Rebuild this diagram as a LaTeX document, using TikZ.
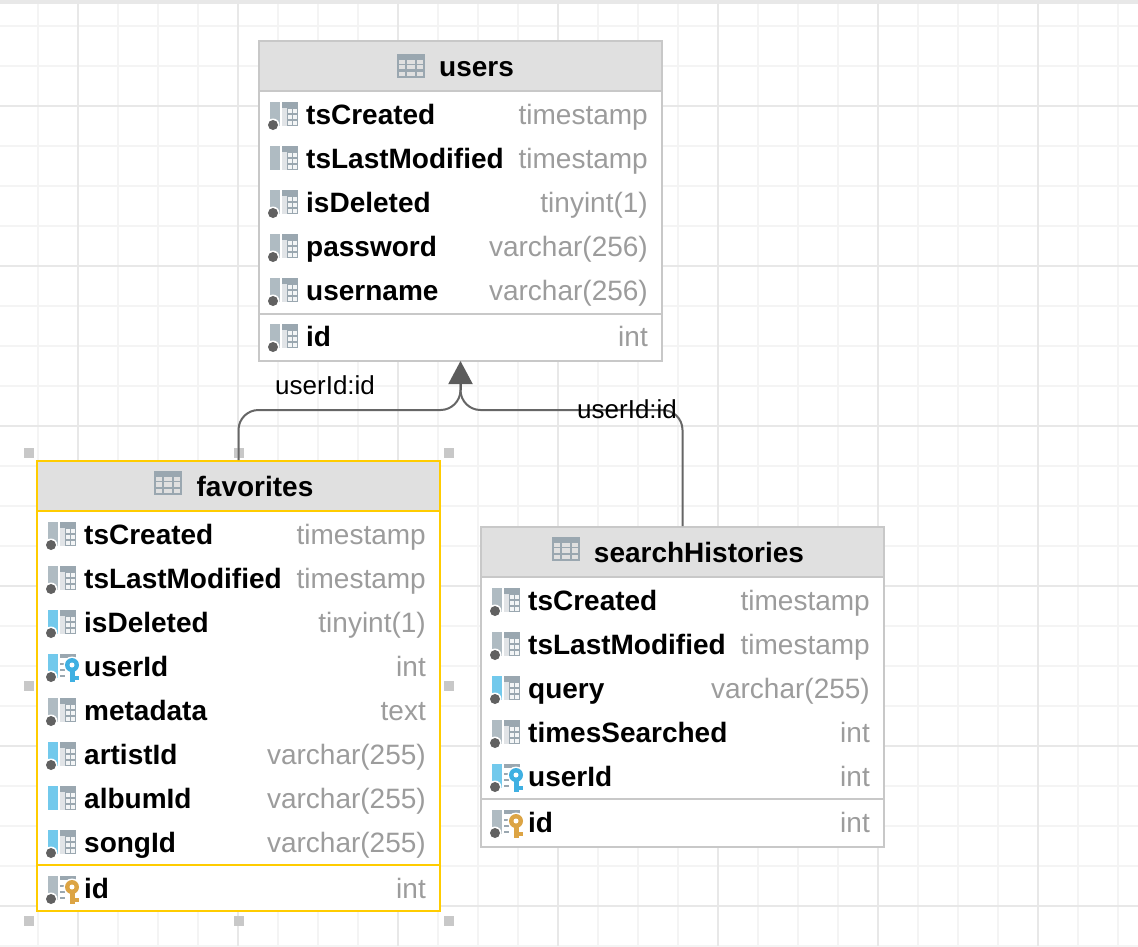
\documentclass[tikz,border=0pt]{standalone}
\usepackage{fontspec}
\setmainfont{Liberation Sans}
\usepackage{xcolor}
\usetikzlibrary{arrows.meta,calc}
\definecolor{gridminor}{HTML}{F4F4F4}
\definecolor{gridmajor}{HTML}{E8E8E8}
\definecolor{headfill}{HTML}{E0E0E0}
\definecolor{boxline}{HTML}{C8C8C8}
\definecolor{pickline}{HTML}{FFCC00}
\definecolor{typetext}{HTML}{9C9C9C}
\definecolor{iconbar}{HTML}{AFBBC2}
\definecolor{iconblue}{HTML}{72C9EC}
\definecolor{icontable}{HTML}{9AA7B0}
\definecolor{icondot}{HTML}{616161}
\definecolor{keyblue}{HTML}{3FB0E2}
\definecolor{keygold}{HTML}{DCA444}
\definecolor{relline}{HTML}{666666}
\tikzstyle{tablebox} = [draw=boxline, line width=2pt, fill=white, rectangle, anchor=north west, minimum width=403pt, inner sep=0pt]
\tikzstyle{picked} = [draw=pickline]
\tikzstyle{titletext} = [font=\fontsize{28}{32}\selectfont\bfseries, anchor=base, inner sep=0pt]
\tikzstyle{nametext} = [font=\fontsize{28}{32}\selectfont\bfseries, anchor=base west, inner sep=0pt]
\tikzstyle{typelabel} = [font=\fontsize{28}{32}\selectfont, text=typetext, anchor=base east, inner sep=0pt]
\tikzstyle{rellabel} = [font=\fontsize{26}{30}\selectfont, anchor=base west, inner sep=0pt]
\tikzstyle{relation} = [draw=relline, line width=2pt, rounded corners=20pt]
\tikzstyle{handle} = [fill=boxline, minimum size=10pt, inner sep=0pt]
% small table symbol in the head of a box
\newcommand{\headicon}[1]{%
  \fill[icontable] ($(#1.west)+(-42,-15)$) rectangle ($(#1.west)+(-14,9)$);
  \foreach \cx/\cw in {2/6,10/8,20/6} \foreach \cy/\ch in {6/4,11/4.5,18/4}
    \fill[headfill] ($(#1.west)+(-42+\cx,-15+\cy)$) rectangle ++(\cw,\ch);
}
% #1 row name prefix, #2 y, #3 name, #4 type, #5 bar colour, #6 dot, #7 key colour
\newcommand{\fieldrow}[7]{%
  \fill[#5] (11,#2-13) rectangle (21,#2+11);
  \ifx#7n
    \fill[icontable] (23,#2-13) rectangle (39,#2+11);
    \fill[white!70!icontable] (23,#2-7) rectangle (28,#2+11);
    \fill[white!88!icontable] (29,#2-6) rectangle (33,#2-2);
    \fill[white!88!icontable] (34,#2-6) rectangle (38,#2-2);
    \fill[white!88!icontable] (29,#2) rectangle (33,#2+4);
    \fill[white!88!icontable] (34,#2) rectangle (38,#2+4);
    \fill[white!88!icontable] (29,#2+6) rectangle (33,#2+10);
    \fill[white!88!icontable] (34,#2+6) rectangle (38,#2+10);
  \else
    \fill[icontable] (23,#2-13) rectangle (39,#2-9);
    \fill[icontable] (23,#2-4) rectangle (29,#2-2);
    \fill[icontable] (23,#2+2) rectangle (28,#2+4);
    \fill[icontable] (23,#2+8) rectangle (28,#2+10);
    \fill[white] (35,#2-2) circle (8.5pt);
    \fill[white] (31,#2) rectangle (43,#2+16);
    \fill[#7] (35,#2-2) circle (7pt);
    \fill[white] (35,#2-2) circle (2.5pt);
    \fill[#7] (33,#2+2) rectangle (38,#2+15);
    \fill[#7] (38,#2+9) rectangle (42,#2+12.5);
  \fi
  \ifnum#6=1
    \fill[white] (14,#2+10) circle (6.5pt);
    \fill[icondot] (14,#2+10) circle (5pt);
  \fi
  \node[nametext] (#1-name) at (47,#2+9.5) {#3};
  \node[typelabel] (#1-type) at (389,#2+9.5) {#4};
}

\begin{document}
\begin{tikzpicture}[x=1pt,y=-1pt]
\useasboundingbox (0,0) rectangle (1138,946);
\fill[white] (0,0) rectangle (1138,946);

% background grid
\foreach \gx in {38,78,...,1118} \draw[gridminor, line width=2pt] (\gx,4) -- (\gx,946);
\foreach \gy in {26,66,...,946} \draw[gridminor, line width=2pt] (0,\gy) -- (1138,\gy);
\foreach \gx in {78,238,...,1038} \draw[gridmajor, line width=2pt] (\gx,4) -- (\gx,946);
\foreach \gy in {106,266,...,906} \draw[gridmajor, line width=2pt] (0,\gy) -- (1138,\gy);
\fill[gridmajor] (0,0) rectangle (1138,4);

% selection handles
\foreach \hx/\hy [count=\hi] in {29/453,239/453,449/453,29/686,449/686,29/921,239/921,449/921}
  \node[handle] (handle\hi) at (\hx,\hy) {};

% users
\node[tablebox, minimum height=320pt] (users) at (258,40) {};
\begin{scope}[shift={(259,41)}]
  \fill[headfill] (0,0) rectangle (403,50);
  \draw[boxline, line width=2pt] (0,50) -- (403,50);
  \draw[boxline, line width=2pt] (0,273) -- (403,273);
  \draw[boxline, line width=2pt] (0,0) rectangle (403,320);
  \node[titletext] (usersTitle) at (217.5,35) {users};
  \headicon{usersTitle}
  \fieldrow{usersCreated}{74}{tsCreated}{timestamp}{iconbar}{1}{n}
  \fieldrow{usersModified}{118}{tsLastModified}{timestamp}{iconbar}{0}{n}
  \fieldrow{usersDeleted}{162}{isDeleted}{tinyint(1)}{iconbar}{1}{n}
  \fieldrow{usersPassword}{206}{password}{varchar(256)}{iconbar}{1}{n}
  \fieldrow{usersName}{250}{username}{varchar(256)}{iconbar}{1}{n}
  \fieldrow{usersId}{296}{id}{int}{iconbar}{1}{n}
\end{scope}

% favorites
\node[tablebox, picked, minimum height=450pt] (favorites) at (36,460) {};
\begin{scope}[shift={(37,461)}]
  \fill[headfill] (0,0) rectangle (403,50);
  \draw[pickline, line width=2pt] (0,50) -- (403,50);
  \draw[pickline, line width=2pt] (0,404) -- (403,404);
  \draw[pickline, line width=2pt] (0,0) rectangle (403,450);
  \node[titletext] (favoritesTitle) at (218,35) {favorites};
  \headicon{favoritesTitle}
  \fieldrow{favoritesCreated}{74}{tsCreated}{timestamp}{iconbar}{1}{n}
  \fieldrow{favoritesModified}{118}{tsLastModified}{timestamp}{iconbar}{1}{n}
  \fieldrow{favoritesDeleted}{162}{isDeleted}{tinyint(1)}{iconblue}{1}{n}
  \fieldrow{favoritesUser}{206}{userId}{int}{iconblue}{1}{keyblue}
  \fieldrow{favoritesMeta}{250}{metadata}{text}{iconbar}{1}{n}
  \fieldrow{favoritesArtist}{294}{artistId}{varchar(255)}{iconblue}{1}{n}
  \fieldrow{favoritesAlbum}{338}{albumId}{varchar(255)}{iconblue}{0}{n}
  \fieldrow{favoritesSong}{382}{songId}{varchar(255)}{iconblue}{1}{n}
  \fieldrow{favoritesId}{428}{id}{int}{iconbar}{1}{keygold}
\end{scope}

% searchHistories
\node[tablebox, minimum height=320pt] (searchHistories) at (480,526) {};
\begin{scope}[shift={(481,527)}]
  \fill[headfill] (0,0) rectangle (403,50);
  \draw[boxline, line width=2pt] (0,50) -- (403,50);
  \draw[boxline, line width=2pt] (0,272) -- (403,272);
  \draw[boxline, line width=2pt] (0,0) rectangle (403,320);
  \node[titletext] (searchTitle) at (218,35) {searchHistories};
  \headicon{searchTitle}
  \fieldrow{searchCreated}{74}{tsCreated}{timestamp}{iconbar}{1}{n}
  \fieldrow{searchModified}{118}{tsLastModified}{timestamp}{iconbar}{1}{n}
  \fieldrow{searchQuery}{162}{query}{varchar(255)}{iconblue}{1}{n}
  \fieldrow{searchTimes}{206}{timesSearched}{int}{iconbar}{1}{n}
  \fieldrow{searchUser}{250}{userId}{int}{iconblue}{1}{keyblue}
  \fieldrow{searchId}{296}{id}{int}{iconbar}{1}{keygold}
\end{scope}

% relations
\coordinate (usersJoin) at ($(users.south)+(0,48)$);
\draw[relation] (favorites.north) |- (usersJoin) -- ($(users.south)+(0,20)$);
\draw[relation] (searchHistories.north) |- (usersJoin) -- ($(users.south)+(0,20)$);
\draw[-{Triangle[length=23pt,width=24pt]}, color=relline!90!black, line width=2pt] ($(users.south)+(0,28)$) -- ($(users.south)+(0,-1)$);
\node[rellabel] (favoritesRel) at (275,394) {userId:id};
\node[rellabel] (searchRel) at (577,418) {userId:id};
\end{tikzpicture}
\end{document}
